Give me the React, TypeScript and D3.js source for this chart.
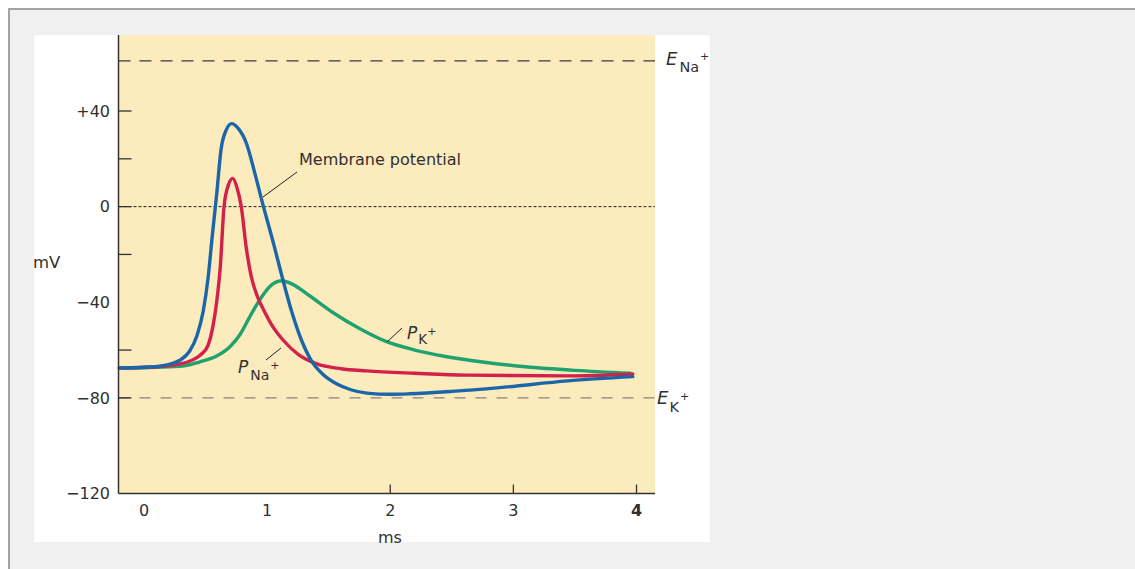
import React from "react";
import * as d3 from "d3";

// ---- data ----
const membraneT = [-0.2, 0.0, 0.13, 0.25, 0.3, 0.37, 0.43, 0.48, 0.52, 0.555, 0.59, 0.626, 0.667, 0.713, 0.76, 0.835, 0.9, 0.97, 1.05, 1.12, 1.2, 1.28, 1.36, 1.45, 1.56, 1.68, 1.81, 2.0, 2.16, 2.5, 2.89, 3.44, 3.97];
const membraneMV = [-67.5, -67.2, -66.7, -65.2, -64, -60.5, -54, -44, -30, -12, 5, 24, 32, 34.7, 33, 26, 14, 0, -15, -29, -44, -56, -64.5, -70, -74, -76.6, -78, -78.5, -78.3, -77.3, -75.7, -72.9, -71.1];

const pNaT = [-0.2, 0.1, 0.27, 0.4, 0.46, 0.52, 0.56, 0.59, 0.62, 0.65, 0.685, 0.721, 0.755, 0.79, 0.83, 0.87, 0.92, 0.97, 1.05, 1.133, 1.252, 1.404, 1.6, 1.81, 2.2, 2.62, 3.44, 3.97];
const pNaMV = [-67.5, -67, -66, -64, -62, -58, -50, -40, -25, 0, 9, 11.8, 8, 0, -17, -29, -37.5, -43, -50.5, -56, -61.8, -65.8, -67.8, -68.7, -69.7, -70.5, -70.8, -70];

const pKT = [-0.2, 0.1, 0.317, 0.45, 0.59, 0.7, 0.78, 0.86, 0.94, 1.02, 1.12, 1.2, 1.35, 1.54, 1.75, 1.97, 2.2, 2.45, 2.75, 3.1, 3.5, 3.95];
const pKMV = [-67.5, -67.2, -66.7, -65, -62.5, -58.5, -53.5, -46, -39, -33.5, -31, -32.3, -37.5, -44.5, -51, -56.5, -60, -62.7, -65, -67, -68.5, -69.7];

const eNa = 61;
const eK = -80;

const yLabelValues = [40, 0, -40, -80, -120];
const yLabelTexts = ["+40", "0", "\u221240", "\u221280", "\u2212120"];
const yTickMarks = [40, 20, 0, -20, -60, -80];
const xLabelValues = [0, 1, 2, 3, 4];
const xTickMarks = [2, 3, 4];

const BLUE = "#1a66a8";
const RED = "#d2214b";
const GREEN = "#20a26f";
const TEXT = "#303030";
const FONT = "DejaVu Sans";

export default function App() {
  const x = d3.scaleLinear().domain([0, 4]).range([144, 636.5]);
  const y = d3.scaleLinear().domain([-120, 40]).range([493.5, 111]);
  const left = 118.5;
  const right = 655;
  const top = 35;
  const bottom = y(-120);

  const line = d3
    .line<[number, number]>()
    .x((d) => x(d[0]))
    .y((d) => y(d[1]))
    .curve(d3.curveMonotoneX);

  const zip = (t: number[], v: number[]) => t.map((tt, i) => [tt, v[i]] as [number, number]);

  return (
    <svg
      width={1135}
      height={569}
      style={{ position: "absolute", left: 0, top: 0, display: "block" }}
      fontFamily={FONT}
    >
      {/* page frame */}
      <rect x={0} y={0} width={1135} height={569} fill="#ffffff" />
      <rect x={9} y={9} width={1200} height={700} fill="#f0f0f0" stroke="#a3a3a3" strokeWidth={2} />
      {/* white panel */}
      <rect x={34} y={35} width={676} height={507} fill="#ffffff" />
      {/* plot background */}
      <rect x={left} y={top} width={right - left} height={bottom - top} fill="#fcebbd" />

      {/* reference lines */}
      <line x1={left} x2={right} y1={y(eNa)} y2={y(eNa)} stroke="#3a3a3a" strokeWidth={1.2} strokeDasharray="12,9" />
      <line x1={left} x2={right} y1={y(eK)} y2={y(eK)} stroke="#8a8474" strokeWidth={1.2} strokeDasharray="11,10" />
      <line x1={left} x2={right} y1={y(0)} y2={y(0)} stroke="#222" strokeWidth={1} strokeDasharray="3,2" />

      {/* curves */}
      <path d={line(zip(pKT, pKMV)) || ""} fill="none" stroke={GREEN} strokeWidth={3.4} strokeLinecap="round" strokeLinejoin="round" />
      <path d={line(zip(pNaT, pNaMV)) || ""} fill="none" stroke={RED} strokeWidth={3.4} strokeLinecap="round" strokeLinejoin="round" />
      <path d={line(zip(membraneT, membraneMV)) || ""} fill="none" stroke={BLUE} strokeWidth={3.4} strokeLinecap="round" strokeLinejoin="round" />

      {/* axes */}
      <line x1={left} x2={left} y1={top} y2={bottom} stroke="#333" strokeWidth={1.5} />
      <line x1={left} x2={right} y1={bottom} y2={bottom} stroke="#333" strokeWidth={1.5} />
      {yTickMarks.map((v) => (
        <line key={"yt" + v} x1={left} x2={left + 13} y1={y(v)} y2={y(v)} stroke="#333" strokeWidth={1.3} />
      ))}
      {xTickMarks.map((v) => (
        <line key={"xt" + v} x1={x(v)} x2={x(v)} y1={bottom} y2={bottom - 9} stroke="#333" strokeWidth={1.3} />
      ))}
      {yLabelValues.map((v, i) => (
        <text key={"yl" + v} x={110} y={y(v)} dy="0.36em" textAnchor="end" fontSize={16} fill={TEXT}>
          {yLabelTexts[i]}
        </text>
      ))}
      {xLabelValues.map((v) => (
        <text
          key={"xl" + v}
          x={x(v)}
          y={510}
          dy="0.36em"
          textAnchor="middle"
          fontSize={16}
          fill={TEXT}
          fontWeight={v === 4 ? "bold" : "normal"}
        >
          {v}
        </text>
      ))}
      <text x={390} y={537} dy="0.36em" textAnchor="middle" fontSize={16} fill={TEXT}>ms</text>
      <text x={33} y={262} dy="0.36em" textAnchor="start" fontSize={16.5} fill={TEXT}>mV</text>

      {/* annotations */}
      <text x={299} y={165} fontSize={16} fill={TEXT}>Membrane potential</text>
      <line x1={297} y1={172} x2={263} y2={197} stroke="#222" strokeWidth={1} />

      <line x1={402} y1={328} x2={387} y2={342} stroke="#222" strokeWidth={1} />
      <text x={407} y={338.5} fontSize={17} fill={TEXT}>
        <tspan fontStyle="italic">P</tspan>
        <tspan fontSize={13.5} dx={1} dy={5}>K</tspan>
        <tspan fontSize={11} dy={-9}>+</tspan>
      </text>

      <line x1={266} y1={360} x2={281} y2={348} stroke="#222" strokeWidth={1} />
      <text x={238} y={373} fontSize={17} fill={TEXT}>
        <tspan fontStyle="italic">P</tspan>
        <tspan fontSize={14} dx={2} dy={7}>Na</tspan>
        <tspan fontSize={11} dx={1} dy={-11}>+</tspan>
      </text>

      <text x={666} y={64.5} fontSize={18} fill={TEXT}>
        <tspan fontStyle="italic">E</tspan>
        <tspan fontSize={14.5} dx={2} dy={7.5}>Na</tspan>
        <tspan fontSize={11} dx={1} dy={-12}>+</tspan>
      </text>
      <text x={657} y={404} fontSize={18} fill={TEXT}>
        <tspan fontStyle="italic">E</tspan>
        <tspan fontSize={14.5} dx={1} dy={7.5}>K</tspan>
        <tspan fontSize={11} dx={1} dy={-12}>+</tspan>
      </text>
    </svg>
  );
}
